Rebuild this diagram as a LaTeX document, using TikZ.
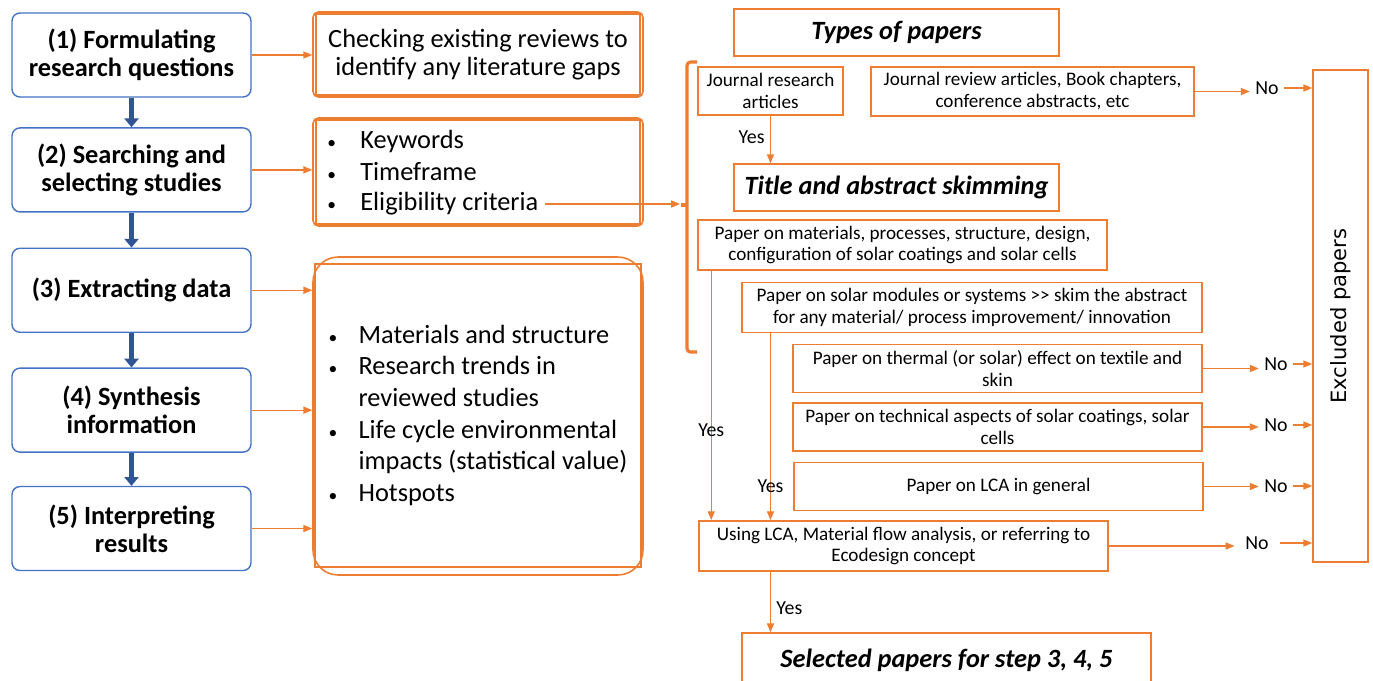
\documentclass[tikz,border=0pt]{standalone}
\usepackage{fontspec}
\setmainfont{Carlito}
\newfontfamily\exclfont{DejaVu Sans}
\usepackage{xcolor}
\usepackage{tikz}
\usetikzlibrary{arrows.meta,positioning,calc}
\definecolor{orng}{HTML}{ED7D31}
\definecolor{stageblue}{HTML}{4472C4}
\definecolor{arrblue}{HTML}{2F5597}
\newcommand{\stagefont}{\fontsize{15}{16}\selectfont}
\newcommand{\critfont}{\fontsize{10.9}{12.5}\selectfont}
\newcommand{\dotb}{{\fontsize{10}{10}\selectfont\textbullet}}
\newcommand{\itm}[1]{\makebox[0.66cm][l]{\dotb}#1}

\begin{document}
\begin{tikzpicture}[
  x=0.02cm, y=-0.02cm,
  stage/.style={draw=stageblue, line width=0.8pt, rounded corners=4.5pt, minimum width=4.78cm, minimum height=1.68cm, align=center, font=\stagefont\bfseries},
  note/.style={draw=orng, line width=0.9pt, rounded corners=3pt, minimum width=6.6cm, align=center, font=\stagefont},
  item/.style={anchor=west, inner sep=0pt, font=\stagefont},
  crit/.style={draw=orng, line width=0.9pt, minimum height=0.96cm, align=center, font=\critfont},
  head/.style={crit, minimum width=6.5cm, minimum height=0.94cm, font=\stagefont\bfseries\itshape},
  lbl/.style={inner sep=3pt, font=\fontsize{11.3}{13}\selectfont},
  arr/.style={draw=orng, line width=0.7pt, -{Triangle[length=5pt,width=4pt]}},
  bigarr/.style={draw=arrblue, line width=2.6pt, -{Triangle[length=5pt,width=8pt]}},
  brace/.style={draw=orng, line width=1.8pt, rounded corners=2pt}
]
  \useasboundingbox (0,0) rectangle (1373,680);

  \node[stage] (s1) at (131.5,55) {(1) Formulating\\research questions};
  \node[stage, below=0.59cm of s1] (s2) {(2) Searching and\\selecting studies};
  \node[stage, below=0.7cm of s2] (s3) {(3) Extracting data};
  \node[stage, below=0.69cm of s3] (s4) {(4) Synthesis\\information};
  \node[stage, below=0.66cm of s4] (s5) {(5) Interpreting\\results};
  \foreach \a/\b in {s1/s2,s2/s3,s3/s4,s4/s5} \draw[bigarr] (\a) -- (\b);

  \node[note, minimum height=1.7cm] (gap) at (478,54.5) {Checking existing reviews to\\identify any literature gaps};
  \node[note, minimum height=2.16cm] (search) at (478,172) {};
  \node[item] (kw1) at (327,141) {\itm{Keywords}};
  \node[item] (kw2) at (327,172) {\itm{Timeframe}};
  \node[item] (kw3) at (327,204) {\itm{Eligibility criteria}};
  \node[note, minimum height=6.36cm, rounded corners=0.5cm, font=\fontsize{15}{18}\selectfont] (info) at (478,416) {%
    \begin{tabular}{@{}p{0.6cm}@{}l@{}}
      \dotb & Materials and structure\\
      \dotb & Research trends in\\
            & reviewed studies\\
      \dotb & Life cycle environmental\\
            & impacts (statistical value)\\
      \dotb & Hotspots
    \end{tabular}};
  \foreach \n in {gap,search}
    \draw[orng, line width=0.9pt] ([shift={(0.07cm,-0.06cm)}]\n.north west) rectangle ([shift={(-0.07cm,0.06cm)}]\n.south east);
  \draw[orng, line width=0.9pt] ([shift={(0.06cm,-0.16cm)}]info.north west) rectangle ([shift={(-0.06cm,0.18cm)}]info.south east);
  \foreach \a/\b in {s1/gap,s2/search,s3/info,s4/info,s5/info}
    \draw[arr] (\a.east) -- (\a.east -| \b.west);

  \draw[brace] (697,62) -- (687,62) -- (687,352) -- (697,352);
  \draw[brace, rounded corners=0pt] (687,205) -- (681,205);
  \coordinate (brk) at (680,205);
  \draw[arr] ([xshift=0.12cm]kw3.east) -- (kw3.east -| brk);

  \node[head] (types) at (896.5,32.5) {Types of papers};
  \node[crit, minimum width=2.9cm] (jres) at (770.5,91) {Journal research\\articles};
  \node[crit, minimum width=6.46cm] (jrev) at (1032.5,91.5) {Journal review articles, Book chapters,\\conference abstracts, etc};
  \node[head] (skim) at (896.5,187.5) {Title and abstract skimming};
  \node[crit, minimum width=8.18cm] (pmat) at (902.5,245) {Paper on materials, processes, structure, design,\\configuration of solar coatings and solar cells};
  \node[crit, minimum width=9.2cm] (psol) at (972,307.5) {Paper on solar modules or systems >{}> skim the abstract\\for any material/ process improvement/ innovation};
  \node[crit, minimum width=8.18cm] (pthe) at (997.5,368.5) {Paper on thermal (or solar) effect on textile and\\skin};
  \node[crit, minimum width=8.18cm] (ptec) at (997.5,427) {Paper on technical aspects of solar coatings, solar\\cells};
  \node[crit, minimum width=8.18cm] (plca) at (998.5,486.5) {Paper on LCA in general};
  \node[crit, minimum width=8.18cm] (lca) at (903.5,546) {Using LCA, Material flow analysis, or referring to\\Ecodesign concept};
  \node[head, minimum width=8.18cm, minimum height=1.08cm] (sel) at (946.5,660) {Selected papers for step 3, 4, 5};
  \node[draw=orng, line width=0.9pt, minimum width=1.1cm, minimum height=9.84cm] (excl) at (1340.5,316) {};
  \node[rotate=90, font=\exclfont\fontsize{12}{14}\selectfont] (excltxt) at (excl.center) {Excluded papers};

  \draw[arr] (jres.south) -- (skim.north -| jres) node[lbl, left, pos=0.45] {Yes};
  \draw[arr] ([xshift=0.28cm]pmat.south west) -- ([xshift=0.28cm]pmat.south west |- lca.north) node[lbl, pos=0.64] {Yes};
  \draw[arr] (psol.south -| jres) -- (lca.north -| jres) node[lbl, pos=0.82] {Yes};
  \draw[arr] (lca.south -| jres) -- (sel.north -| jres) node[lbl, right, pos=0.6] {Yes};

  \node[lbl] (no0) at (1267,88) {No};
  \node[lbl] (no1) at (1276,364) {No};
  \node[lbl] (no2) at (1276,425) {No};
  \node[lbl] (no3) at (1276,486) {No};
  \node[lbl, inner sep=6pt] (no4) at (1257,543) {No};
  \foreach \b/\n in {jrev/no0,pthe/no1,ptec/no2,plca/no3,lca/no4} {
    \draw[arr] (\b.east) -- (\b.east -| \n.west);
    \draw[arr] (\n.east) -- (\n.east -| excl.west);
  }
\end{tikzpicture}
\end{document}
